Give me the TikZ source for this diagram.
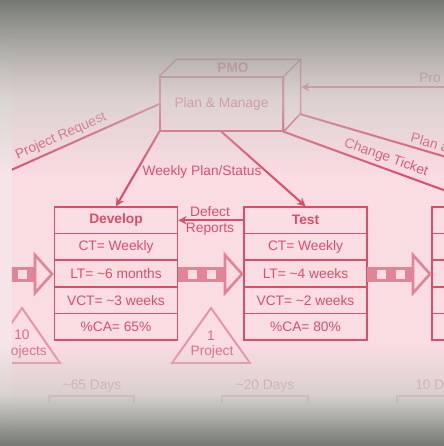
\documentclass[tikz,border=0pt]{standalone}
\usepackage{fontspec}
\setmainfont{Liberation Sans}
\usetikzlibrary{arrows.meta}

\definecolor{vsmbg}{HTML}{FADCE3}
\definecolor{vsmedge}{HTML}{F6E4E8}
\definecolor{vsmline}{HTML}{D94F6B}
\definecolor{vsmpush}{HTML}{E08597}
\definecolor{vsminv}{HTML}{E593A3}
\definecolor{vsminvtext}{HTML}{DC6A82}
\definecolor{vsmtime}{HTML}{D98E9E}
\definecolor{veildark}{HTML}{757973}
\definecolor{veillight}{HTML}{CDCDC8}

\newcommand{\vsmsize}{\fontsize{8.8}{10.8}\selectfont}

\tikzset{
  cell/.style={draw=vsmline, line width=0.9pt, minimum width=2.7675cm,
    minimum height=0.5985cm, inner sep=0pt, text=vsmline, font=\vsmsize},
  flow/.style={draw=vsmline, line width=1.3pt},
  flowarrow/.style={flow, -{Stealth[length=1.9mm, width=1.9mm]}},
  flowtext/.style={text=vsmline, font=\vsmsize, inner sep=2pt},
  pushbar/.style={fill=vsmpush},
  pushhead/.style={draw=vsmpush, fill=vsmbg, line width=1.7pt},
  invtri/.style={draw=vsminv, line width=1.2pt},
  invtext/.style={text=vsminvtext, font=\vsmsize, inner sep=0pt},
  timetext/.style={text=vsmtime, font=\vsmsize, inner sep=0pt},
  timeline/.style={draw=vsmtime, line width=1pt}
}

\begin{document}
\begin{tikzpicture}[x=0.0225cm, y=-0.0225cm]

  \useasboundingbox (0,0) rectangle (444,446);
  \fill[vsmbg] (0,0) rectangle (444,446);
  \fill[vsmedge] (0,0) rectangle (12,446);

  \begin{scope}
    \clip (12,0) rectangle (444,446);

    \node[cell, minimum height=1.215cm] (pmo) at (221.5,104) {Plan \& Manage};
    \filldraw[draw=vsmline, fill=vsmline!18, line width=0.9pt]
      (pmo.north east) -- ++(17,-17) -- ++(0,54) -- (pmo.south east) -- cycle;
    \draw[vsmline, line width=0.9pt] (pmo.north west) -- ++(17,-17) -- ++(123,0);
    \node[flowtext, font=\vsmsize\bfseries] (pmolabel) at (233,68) {PMO};

    \begin{scope}[every node/.style={cell}]
      \node[font=\vsmsize\bfseries] (dev0) at (116,220.3) {Develop};
      \node (dev1) at (116,246.9) {CT= Weekly};
      \node (dev2) at (116,273.5) {LT= \textasciitilde6 months};
      \node (dev3) at (116,300.1) {VCT= \textasciitilde3 weeks};
      \node (dev4) at (116,326.7) {\%CA= 65\%};
      \node[font=\vsmsize\bfseries] (test0) at (305.5,220.3) {Test};
      \node (test1) at (305.5,246.9) {CT= Weekly};
      \node (test2) at (305.5,273.5) {LT= \textasciitilde4 weeks};
      \node (test3) at (305.5,300.1) {VCT= \textasciitilde2 weeks};
      \node (test4) at (305.5,326.7) {\%CA= 80\%};
      \node (next0) at (493.5,220.3) {};
      \node (next1) at (493.5,246.9) {};
      \node (next2) at (493.5,273.5) {};
      \node (next3) at (493.5,300.1) {};
      \node (next4) at (493.5,326.7) {};
    \end{scope}

    \fill[pushbar] (0,266.5) rectangle (35,281.5);
    \fill[vsmbg] (18,269.5) rectangle (27,278.5);
    \filldraw[pushhead] (35,255) -- (52,274) -- (35,293) -- cycle;

    \fill[pushbar] (178,266.5) rectangle (225,281.5);
    \fill[vsmbg] (188,269.5) rectangle (197,278.5);
    \fill[vsmbg] (207,269.5) rectangle (216,278.5);
    \filldraw[pushhead] (225,255) -- (242,274) -- (225,293) -- cycle;

    \fill[pushbar] (367,266.5) rectangle (413,281.5);
    \fill[vsmbg] (377,269.5) rectangle (386,278.5);
    \fill[vsmbg] (396,269.5) rectangle (405,278.5);
    \filldraw[pushhead] (413,255) -- (430,274) -- (413,293) -- cycle;

    \draw[invtri] (22,308) -- (60,363) -- (-16,363) -- cycle;
    \node[invtext] (inv1a) at (22,335) {10};
    \node[invtext] (inv1b) at (22,352) {Projects};
    \draw[invtri] (211,308) -- (250,363) -- (172,363) -- cycle;
    \node[invtext] (inv2a) at (211,336) {1};
    \node[invtext] (inv2b) at (212,352) {Project};

    \node[timetext] (days1) at (92,386) {\textasciitilde65 Days};
    \draw[timeline] (49,403) -- (49,396) -- (134,396) -- (134,403);
    \node[timetext] (days2) at (265,386) {\textasciitilde20 Days};
    \draw[timeline] (222,403) -- (222,396) -- (308,396) -- (308,403);
    \node[timetext, anchor=west] (days3) at (415,386) {10 Days};
    \draw[timeline] (397,403) -- (397,396) -- (460,396);

    \coordinate (reqend) at (0,175);
    \coordinate (pmoback) at (300,114);
    \coordinate (pmoside) at (301,87);
    \coordinate (proend) at (460,87);
    \coordinate (planend) at (460,161);
    \coordinate (changeend) at (460,196);

    \path (reqend) edge[flow] node[flowtext, sloped, above, pos=0.41] {Project Request} (pmo.west);
    \path (pmo.south west) edge[flowarrow] (dev0.north);
    \path (pmo.south) edge[flowarrow] (test0.north);
    \node[flowtext] (weekly) at (202,172) {Weekly Plan/Status};
    \path (proend) edge[flowarrow] (pmoside);
    \node[flowtext, anchor=west, inner sep=0pt] (prolabel) at (419,78) {Pro};
    \path (pmoback) edge[flow] node[flowtext, sloped, anchor=south west, pos=0.655] {Plan a} (planend);
    \path (pmo.south east) edge[flow] node[flowtext, sloped, above, pos=0.56] {Change Ticket} (changeend);
    \path (test0.west) edge[flowarrow] (dev0.east);
    \node[flowtext, align=center] (defect) at (210,221) {Defect\\Reports};
  \end{scope}

  \foreach \v in {0,...,174}{
    \pgfmathsetmacro{\veilop}{\v<100 ? 1-0.0035*\v : 0.65-0.65*(\v-100)/75}
    \pgfmathsetmacro{\veilmix}{min(100,\v)}
    \fill[veillight!\veilmix!veildark, fill opacity=\veilop] (0,\v) rectangle (444,\v+1);
  }
  \foreach \v in {345,...,445}{
    \pgfmathsetmacro{\veilop}{\v<380 ? 0.5*(\v-345)/35 : (\v<400 ? 0.5+0.35*(\v-380)/20 : min(1,0.85+0.15*(\v-400)/30))}
    \pgfmathsetmacro{\veilmix}{\v<395 ? 100 : 100-100*(\v-395)/51}
    \fill[veillight!\veilmix!veildark, fill opacity=\veilop] (0,\v) rectangle (444,\v+1);
  }

\end{tikzpicture}
\end{document}
